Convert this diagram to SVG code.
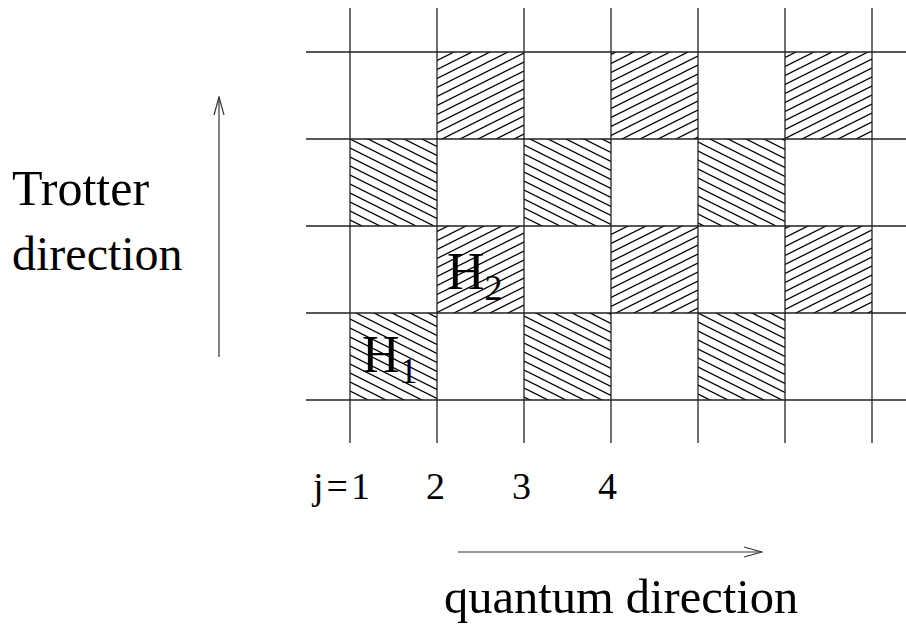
<svg xmlns="http://www.w3.org/2000/svg" width="906" height="629" viewBox="0 0 906 629">
<style>
.grid{stroke:#222;stroke-width:1.3;fill:none}
.hatch{stroke:#000;stroke-width:1.2}
.arrow{stroke:#333;stroke-width:1.2;fill:none}
.lbl{font-family:"Liberation Serif","Times New Roman",serif;fill:#000}
</style>
<defs>
<pattern id="up" patternUnits="userSpaceOnUse" width="18" height="9">
<path class="hatch" d="M0,9 L18,0 M-2,1 L2,-1 M16,10 L20,8"/>
</pattern>
<pattern id="down" patternUnits="userSpaceOnUse" width="18" height="9">
<path class="hatch" d="M0,0 L18,9 M-2,8 L2,10 M16,-1 L20,1"/>
</pattern>
<marker id="head" viewBox="0 0 20 12" refX="19" refY="6" markerWidth="20" markerHeight="12" markerUnits="userSpaceOnUse" orient="auto">
<path d="M1,1 L19,6 L1,11" fill="none" stroke="#333" stroke-width="1.2"/>
</marker>
</defs>
<g id="cells">
<rect x="437" y="52" width="87" height="87" fill="url(#up)"/>
<rect x="611" y="52" width="87" height="87" fill="url(#up)"/>
<rect x="785" y="52" width="87" height="87" fill="url(#up)"/>
<rect x="350" y="139" width="87" height="87" fill="url(#down)"/>
<rect x="524" y="139" width="87" height="87" fill="url(#down)"/>
<rect x="698" y="139" width="87" height="87" fill="url(#down)"/>
<rect x="437" y="226" width="87" height="87" fill="url(#up)"/>
<rect x="611" y="226" width="87" height="87" fill="url(#up)"/>
<rect x="785" y="226" width="87" height="87" fill="url(#up)"/>
<rect x="350" y="313" width="87" height="87" fill="url(#down)"/>
<rect x="524" y="313" width="87" height="87" fill="url(#down)"/>
<rect x="698" y="313" width="87" height="87" fill="url(#down)"/>
</g>
<g id="grid" class="grid">
<path d="M350,8 V443 M437,8 V443 M524,8 V443 M611,8 V443 M698,8 V443 M785,8 V443 M872,8 V443"/>
<path d="M306,52 H906 M306,139 H906 M306,226 H906 M306,313 H906 M306,400 H906"/>
</g>
<g id="connectors">
<line class="arrow" x1="219" y1="357" x2="219" y2="97" marker-end="url(#head)"/>
<line class="arrow" x1="458" y1="552" x2="762" y2="552" marker-end="url(#head)"/>
</g>
<g id="labels" class="lbl">
<text x="12" y="205" font-size="50">Trotter</text>
<text x="12" y="270" font-size="48">direction</text>
<text x="362" y="372" font-size="52">H<tspan font-size="36" dy="11">1</tspan></text>
<text x="447" y="289" font-size="52">H<tspan font-size="36" dy="11">2</tspan></text>
<text x="313" y="499" font-size="38" letter-spacing="3">j=1</text>
<text x="426" y="499" font-size="38">2</text>
<text x="512" y="499" font-size="38">3</text>
<text x="598" y="499" font-size="38">4</text>
<text x="444" y="613" font-size="48.5">quantum direction</text>
</g>
</svg>
